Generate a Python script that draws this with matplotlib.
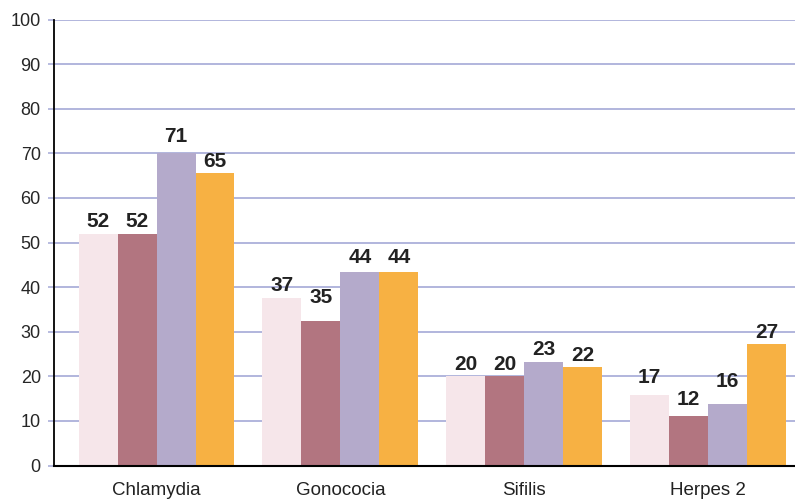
import matplotlib
matplotlib.use("Agg")
import matplotlib.pyplot as plt
import numpy as np

categories = ["Chlamydia", "Gonococia", "Sifilis", "Herpes 2"]
series1 = [52.0, 37.6, 20.0, 15.7]
series2 = [52.0, 32.3, 20.0, 11.1]
series3 = [70.0, 43.4, 23.3, 13.8]
series4 = [65.5, 43.4, 22.0, 27.2]
labels1 = [52, 37, 20, 17]
labels2 = [52, 35, 20, 12]
labels3 = [71, 44, 23, 16]
labels4 = [65, 44, 22, 27]
yticks = [0, 10, 20, 30, 40, 50, 60, 70, 80, 90, 100]

colors = ["#F6E6EA", "#B27580", "#B4AACB", "#F7B143"]
grid_color = "#ABB0DA"

plt.rcParams['font.family'] = ['Liberation Sans', 'DejaVu Sans']

fig = plt.figure(figsize=(7.95, 5.01), dpi=100)
ax = fig.add_axes([54/795, 35.5/501, 741/795, 446/501])

x = np.arange(len(categories))
w = 0.212
all_vals = [series1, series2, series3, series4]
all_labels = [labels1, labels2, labels3, labels4]
for k, (vals, labs) in enumerate(zip(all_vals, all_labels)):
    xs = x + (k - 1.5) * w
    ax.bar(xs, vals, width=w, color=colors[k], zorder=2, linewidth=0)
    for xi, v, l in zip(xs, vals, labs):
        ax.text(xi, max(v, l) + 0.6, str(l), ha='center', va='bottom',
                fontsize=15, fontweight='bold', color='#222222', zorder=3)

ax.set_ylim(0, 100)
ax.set_xlim(-0.558, 3.474)
ax.set_yticks(yticks)
ax.set_yticklabels([str(t) for t in yticks], fontsize=13, color='#262626')
ax.yaxis.grid(True, color=grid_color, linewidth=1.3, zorder=0)
ax.set_axisbelow(True)
ax.tick_params(axis='y', length=4.5, width=1.2, color=grid_color, pad=5)
ax.set_xticks(x)
ax.set_xticklabels(categories, fontsize=13.5, color='#222222')
ax.tick_params(axis='x', length=0, pad=12)

for s in ['top', 'right']:
    ax.spines[s].set_visible(False)
ax.spines['left'].set_color('black')
ax.spines['left'].set_linewidth(1.3)
ax.spines['bottom'].set_color('black')
ax.spines['bottom'].set_linewidth(1.5)

fig.savefig("out.png", dpi=100)
